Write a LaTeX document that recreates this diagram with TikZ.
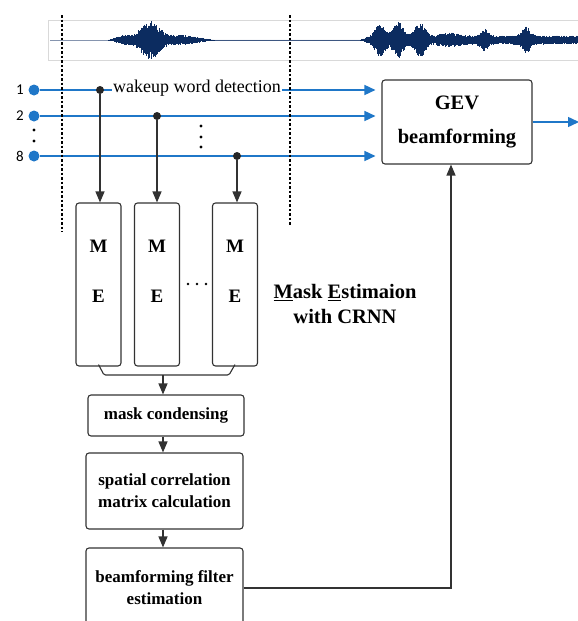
\documentclass[tikz,border=0pt]{standalone}
\usepackage{fontspec}
\setmainfont{Liberation Serif}
\newfontfamily\numfont{Carlito}
\usetikzlibrary{arrows.meta}
\definecolor{wblue}{RGB}{31,119,200}
\definecolor{navy}{RGB}{12,44,96}
\definecolor{boxgray}{RGB}{50,50,50}
\begin{document}
\begin{tikzpicture}[x=1pt,y=-1pt,
  box/.style={draw=boxgray, line width=1.1pt, rounded corners=3pt, inner sep=0pt,
    font=\bfseries\fontsize{17}{22}\selectfont, align=center},
  metext/.style={font=\bfseries\fontsize{19}{19}\selectfont, inner sep=0pt},
  sig/.style={wblue, line width=1.5pt},
  sigarrow/.style={sig, -{Triangle[length=11pt,width=10pt]}},
  darr/.style={draw=boxgray, line width=1.2pt, -{Triangle[length=11pt,width=9pt]}},
  vdash/.style={line width=1.3pt, dash pattern=on 2.5pt off 2pt},
  bdot/.style={circle, fill=wblue, inner sep=0pt, minimum size=11pt},
  jdot/.style={circle, fill=black!85, inner sep=0pt, minimum size=8pt},
  sdot/.style={circle, fill=black, inner sep=0pt, minimum size=3.4pt},
  numlab/.style={font=\numfont\fontsize{15}{15}\selectfont, inner sep=0pt},
]
\useasboundingbox (0,0) rectangle (578,621);
\clip (0,0) rectangle (578,621);
% waveform
\draw[black!15, line width=0.8pt] (48,20) rectangle (600,60);
\draw[navy!50, line width=0.6pt] (50,40) -- (578,40);
\pgfmathsetseed{7}
\foreach \x in {108,108.5,...,578} {
  \pgfmathsetmacro{\base}{ifthenelse(\x<215, 5*min((\x-108)/15,1)*min((215-\x)/30,1), ifthenelse(\x>360, 4.5*min((\x-360)/10,1), 0))}
  \pgfmathsetmacro{\e}{max(\base,0) + 15*exp(-min(((\x-150)/11)^2,9))
     + 13*exp(-min(((\x-380)/6)^2,9)) + 14*exp(-min(((\x-398)/7)^2,9))
     + 13*exp(-min(((\x-420)/7)^2,9)) + 3*exp(-min(((\x-450)/12)^2,9))
     + 7*exp(-min(((\x-484)/5)^2,9)) + 9*exp(-min(((\x-526)/6)^2,9))}
  \pgfmathsetmacro{\u}{\e*(0.55+0.45*rnd)}
  \pgfmathsetmacro{\d}{\e*(0.55+0.45*rnd)}
  \draw[navy, line width=0.8pt] (\x,{40-\u}) -- (\x,{40+\d});
}
% inputs
\node[bdot] (i1) at (34,90) {};
\node[bdot] (i2) at (34,116) {};
\node[bdot] (i8) at (34,156) {};
\node[numlab, anchor=east] at ([xshift=-10pt]i1.center) {1};
\node[numlab, anchor=east] at ([xshift=-10pt]i2.center) {2};
\node[numlab, anchor=east] at ([xshift=-10pt]i8.center) {8};
\node[sdot] at (34,130) {};
\node[sdot] at (34,141) {};
% GEV
\node[box, minimum width=150pt, minimum height=84pt,
  font=\bfseries\fontsize{20.5}{34}\selectfont] (gev) at (457,122) {GEV\\beamforming};
\draw[sigarrow, shorten >=6pt] (i1) -- (i1 -| gev.west);
\draw[sigarrow, shorten >=6pt] (i2) -- (i2 -| gev.west);
\draw[sigarrow, shorten >=6pt] (i8) -- (i8 -| gev.west);
\coordinate (out) at (579,122);
\draw[sigarrow] (gev.east |- out) -- (out);
\node[fill=white, inner sep=1.5pt, font=\fontsize{18}{18}\selectfont] (wwd) at (197,88) {wakeup word detection};
\node[sdot] at (201,126) {};
\node[sdot] at (201,137) {};
\node[sdot] at (201,147) {};
% junctions
\node[jdot] (j1) at (100,90) {};
\node[jdot] (j2) at (157,116) {};
\node[jdot] (j8) at (237,156) {};
% ME boxes
\node[box, minimum width=45pt, minimum height=163pt] (me1) at (98.5,284.5) {};
\node[box, minimum width=45pt, minimum height=163pt] (me2) at (157,284.5) {};
\node[box, minimum width=45pt, minimum height=163pt] (me3) at (235,284.5) {};
\foreach \b in {me1,me2,me3} {
  \path (\b.north) ++(0,44) node[metext] {M};
  \path (\b.north) ++(0,94) node[metext] {E};
}
\node[sdot, minimum size=2.8pt] at (188,284) {};
\node[sdot, minimum size=2.8pt] at (197,284) {};
\node[sdot, minimum size=2.8pt] at (206,284) {};
\draw[darr] (j1) -- (j1 |- me1.north);
\draw[darr] (j2) -- (j2 |- me2.north);
\draw[darr] (j8) -- (j8 |- me3.north);
\node[align=center, font=\bfseries\fontsize{20.5}{25}\selectfont] (mel) at (345,304)
  {\underline{M}ask \underline{E}stimaion\\with CRNN};
% bracket
\coordinate (br) at (163,375);
\draw[boxgray, line width=1.1pt, rounded corners=1.5pt] ([yshift=2pt]me1.south) -- (104,375) -- (229,375) -- ([yshift=2pt]me3.south);
% lower chain
\node[box, minimum width=156pt, minimum height=41pt] (mc) at (166,415.5) {mask condensing};
\node[box, minimum width=157pt, minimum height=76pt] (sc) at (164.5,491) {spatial correlation\\matrix calculation};
\node[box, minimum width=157pt, minimum height=80pt] (bf) at (164.5,588) {beamforming filter\\estimation};
\draw[darr] (br) -- (br |- mc.north);
\draw[darr] (br |- mc.south) -- (br |- sc.north);
\draw[darr] (br |- sc.south) -- (br |- bf.north);
\draw[darr] (bf.east) -| ([xshift=-6pt]gev.south);
% dashed separators
\draw[vdash] (62,15) -- (62,232);
\draw[vdash] (290,15) -- (290,225);
\end{tikzpicture}
\end{document}
